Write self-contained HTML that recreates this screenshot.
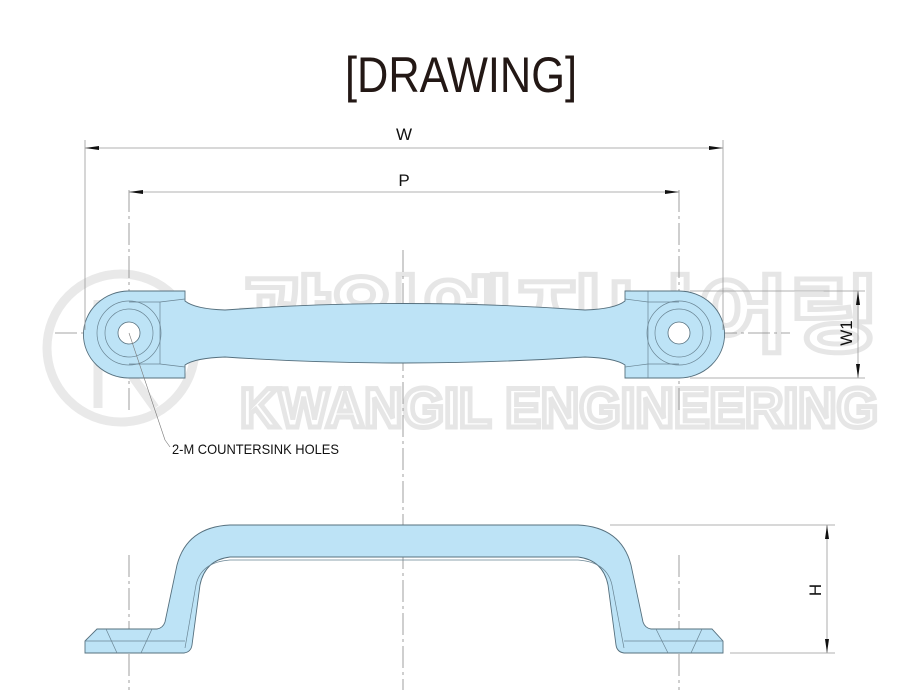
<!DOCTYPE html>
<html><head><meta charset="utf-8"><style>
html,body{margin:0;padding:0;background:#fff;}
svg{display:block;}
</style></head><body>
<svg width="921" height="700" viewBox="0 0 921 700" xmlns="http://www.w3.org/2000/svg">
<!-- watermark -->
<g fill="none" stroke="#e9e9e9">
  <circle cx="121" cy="348" r="74" stroke-width="9"/>
  <path d="M98 300 L98 408 M100 355 L150 300 M110 345 L155 408" stroke-width="9"/>
</g>
<text x="240" y="345" textLength="640" lengthAdjust="spacingAndGlyphs" font-family="Liberation Sans, Noto Sans CJK KR, sans-serif" font-size="84" font-weight="bold" fill="#fff" stroke="#e6e6e6" stroke-width="5">광일엔지니어링</text>
<text x="240" y="427" textLength="638" lengthAdjust="spacingAndGlyphs" font-family="Liberation Sans, sans-serif" font-size="56" font-weight="bold" fill="#fff" stroke="#e6e6e6" stroke-width="5">KWANGIL ENGINEERING</text>

<!-- title -->
<text x="461" y="92" text-anchor="middle" textLength="232" lengthAdjust="spacingAndGlyphs" font-family="Liberation Sans, sans-serif" font-size="50" fill="#231815">[DRAWING]</text>

<!-- center lines -->
<g stroke="#888" stroke-width="0.8" fill="none" stroke-dasharray="22 4 3 4">
  <line x1="55" y1="333" x2="790" y2="333"/>
  <line x1="403" y1="250" x2="403" y2="690"/>
  <line x1="129" y1="190" x2="129" y2="410"/>
  <line x1="679" y1="190" x2="679" y2="410"/>
  <line x1="129" y1="555" x2="129" y2="690"/>
  <line x1="679" y1="555" x2="679" y2="690"/>
</g>

<!-- top view -->
<path d="M185 291 L129 291 A44 42 0 0 0 129 378 L185 378 L185 365 Q195 358 225 357 Q403 369 585 357 Q615 358 625 365 L625 378 L679 378 A44 42 0 0 0 679 291 L625 291 L625 301 Q615 309 585 310 Q403 297 225 310 Q195 309 185 301 Z" fill="#bde3f6" stroke="#56707e" stroke-width="0.9"/>
<g fill="none" stroke="#6a8594" stroke-width="0.7">
  <circle cx="129" cy="333" r="24"/><circle cx="129" cy="333" r="32"/>
  <circle cx="679" cy="333" r="24"/><circle cx="679" cy="333" r="32"/>
  <line x1="160" y1="302" x2="160" y2="364"/><line x1="129" y1="302" x2="160" y2="302"/><line x1="129" y1="364" x2="160" y2="364"/>
  <line x1="160" y1="302" x2="185" y2="299"/><line x1="160" y1="364" x2="185" y2="367"/>
  <line x1="648" y1="291" x2="648" y2="378"/><line x1="648" y1="302" x2="679" y2="302"/><line x1="648" y1="364" x2="679" y2="364"/>
  <line x1="648" y1="302" x2="625" y2="299"/><line x1="648" y1="364" x2="625" y2="367"/>
</g>
<circle cx="129" cy="333" r="11" fill="#fff" stroke="#56707e" stroke-width="0.8"/>
<circle cx="679" cy="333" r="11" fill="#fff" stroke="#56707e" stroke-width="0.8"/>

<!-- dims -->
<g stroke="#999" stroke-width="0.8" fill="none">
  <line x1="85" y1="140" x2="85" y2="330"/>
  <line x1="723" y1="140" x2="723" y2="330"/>
  <line x1="85" y1="148" x2="723" y2="148"/>
  <line x1="129" y1="192" x2="679" y2="192"/>
  <line x1="690" y1="291" x2="865" y2="291"/>
  <line x1="690" y1="378" x2="865" y2="378"/>
  <line x1="858" y1="291" x2="858" y2="378"/>
  <line x1="610" y1="525" x2="835" y2="525"/>
  <line x1="730" y1="653" x2="835" y2="653"/>
  <line x1="827" y1="525" x2="827" y2="653"/>
  <line x1="129" y1="333" x2="165" y2="440" stroke="#777" stroke-width="0.6"/>
  <line x1="165" y1="440" x2="170" y2="447" stroke="#777" stroke-width="0.6"/>
</g>
<g fill="#111">
  <path d="M85 148 l14 -2 v4z"/><path d="M723 148 l-14 -2 v4z"/>
  <path d="M129 192 l14 -2 v4z"/><path d="M679 192 l-14 -2 v4z"/>
  <path d="M858 291 l-2 14 h4z"/><path d="M858 378 l-2 -14 h4z"/>
  <path d="M827 525 l-2 14 h4z"/><path d="M827 653 l-2 -14 h4z"/>
</g>
<g font-family="Liberation Sans, sans-serif" fill="#111">
  <text x="404" y="140" text-anchor="middle" font-size="17">W</text>
  <text x="404" y="186" text-anchor="middle" font-size="17">P</text>
  <text transform="translate(852,333) rotate(-90)" text-anchor="middle" font-size="17">W1</text>
  <text transform="translate(821,590) rotate(-90)" text-anchor="middle" font-size="17">H</text>
  <text x="172" y="454" font-size="14" textLength="167" lengthAdjust="spacingAndGlyphs">2-M COUNTERSINK HOLES</text>
</g>

<!-- bottom view -->
<path d="M85 641 L97 629 L157 629 Q163 628 165 622 L177 565 Q187 527 230 525 L578 525 Q621 527 631 565 L643 622 Q645 628 651 629 L712 629 L723 641 L723 653 L624 653 Q617 652 616 645 L608 585 Q603 560 578 557 L230 557 Q205 560 200 585 L192 645 Q191 652 184 653 L85 653 Z" fill="#bde3f6" stroke="#56707e" stroke-width="0.9"/>
<g fill="none" stroke="#6a8594" stroke-width="0.7">
  <line x1="85" y1="641" x2="185" y2="641"/><line x1="624" y1="641" x2="723" y2="641"/>
  <path d="M185 648 L196 585 Q201 562 230 560 L578 560 Q607 562 612 585 L624 648"/>
  <line x1="106" y1="629" x2="117" y2="653"/><line x1="152" y1="629" x2="141" y2="653"/>
  <line x1="656" y1="629" x2="668" y2="653"/><line x1="702" y1="629" x2="691" y2="653"/>
</g>
</svg>
</body></html>
